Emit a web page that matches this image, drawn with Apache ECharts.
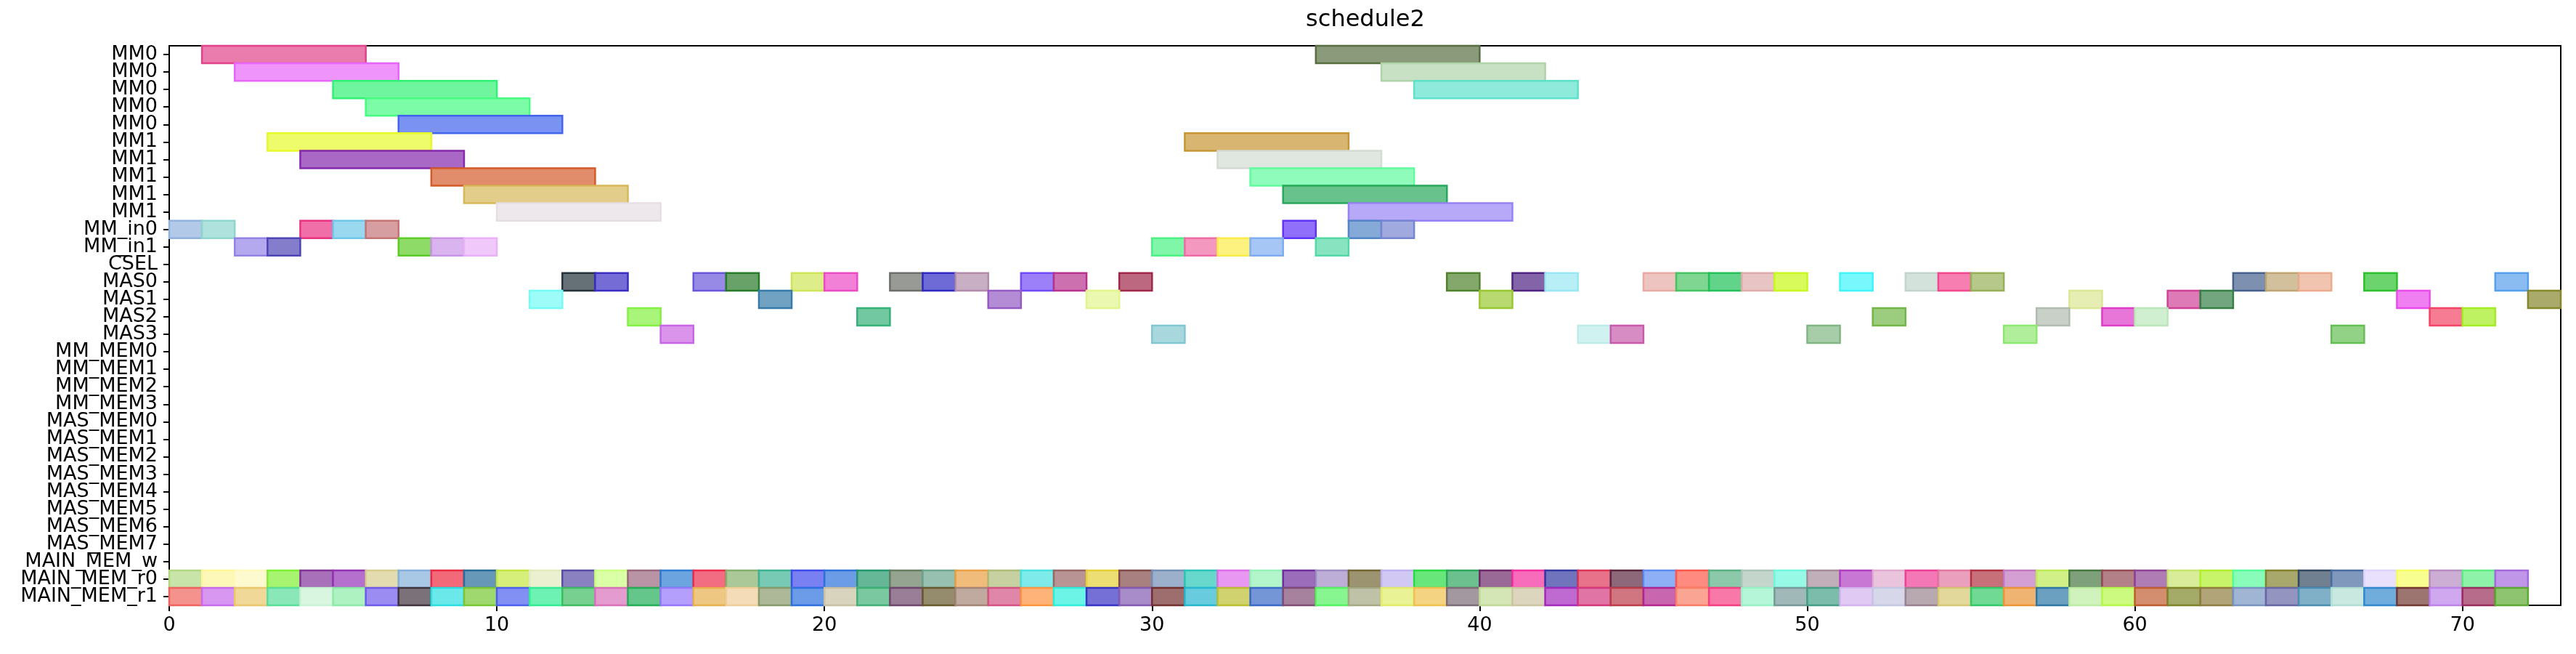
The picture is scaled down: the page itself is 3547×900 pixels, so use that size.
<!DOCTYPE html>
<html>
<head>
<meta charset="utf-8">
<script src="https://cdn.jsdelivr.net/npm/echarts@6/dist/echarts.min.js"></script>
<style>html,body{margin:0;padding:0;background:#fff}#chart{width:3547px;height:900px}</style>
</head>
<body>
<div id="chart"></div>
<script>
// ---- data ----
const categories = ['MM0','MM0','MM0','MM0','MM0','MM1','MM1','MM1','MM1','MM1','MM_in0','MM_in1','CSEL',
  'MAS0','MAS1','MAS2','MAS3','MM_MEM0','MM_MEM1','MM_MEM2','MM_MEM3',
  'MAS_MEM0','MAS_MEM1','MAS_MEM2','MAS_MEM3','MAS_MEM4','MAS_MEM5','MAS_MEM6','MAS_MEM7',
  'MAIN_MEM_w','MAIN_MEM_r0','MAIN_MEM_r1'];
const xTicks = [0, 10, 20, 30, 40, 50, 60, 70];

// long (5-unit) MM tasks
const mmRows   = [0, 0, 1, 1, 2, 2, 3, 4, 5, 5, 6, 6, 7, 7, 8, 8, 9, 9];
const mmStarts = [1, 35, 2, 37, 5, 38, 6, 7, 3, 31, 4, 32, 8, 33, 9, 34, 10, 36];
const mmEnds   = [6, 40, 7, 42, 10, 43, 11, 12, 8, 36, 9, 37, 13, 38, 14, 39, 15, 41];

// 1-unit tasks, per row (start times)
const mmIn0Starts = [0, 1, 4, 5, 6, 34, 36, 37];
const mmIn1Starts = [2, 3, 7, 8, 9, 30, 31, 32, 33, 35];
const mas0Starts = [12, 13, 16, 17, 19, 20, 22, 23, 24, 26, 27, 29, 39, 41, 42, 45, 46, 47, 48, 49, 51, 53, 54, 55, 63, 64, 65, 67, 71];
const mas1Starts = [11, 18, 25, 28, 40, 58, 61, 62, 68, 72];
const mas2Starts = [14, 21, 52, 57, 59, 60, 69, 70];
const mas3Starts = [15, 30, 43, 44, 50, 56, 66];
const mainR0Starts = [0,1,2,3,4,5,6,7,8,9,10,11,12,13,14,15,16,17,18,19,20,21,22,23,24,25,26,27,28,29,30,31,32,33,34,35,
  36,37,38,39,40,41,42,43,44,45,46,47,48,49,50,51,52,53,54,55,56,57,58,59,60,61,62,63,64,65,66,67,68,69,70,71];
const mainR1Starts = [0,1,2,3,4,5,6,7,8,9,10,11,12,13,14,15,16,17,18,19,20,21,22,23,24,25,26,27,28,29,30,31,32,33,34,35,
  36,37,38,39,40,41,42,43,44,45,46,47,48,49,50,51,52,53,54,55,56,57,58,59,60,61,62,63,64,65,66,67,68,69,70,71];
const unitDuration = 1;

// ---- styles (colours as seen on the picture) ----
const mmColors = ['#ea7bad','#8a9a7a','#ee94fb','#c8e0c4','#6ef59e','#8eeada','#7dfca8','#7a93f2','#eefb6a','#d8b672',
  '#aa68c6','#e0e6e0','#e18c6a','#90fcbc','#e3cd8a','#68c28c','#eee8ed','#b8a8f8'];
const mmIn0Colors = ['#b2c9e8','#b0e2dd','#f06fa8','#9ad8f0','#d69ea0','#9070fa','#86aad8','#a0aade'];
const mmIn1Colors = ['#b4a8ee','#837dcc','#8edb68','#dab4ee','#f0c8fa','#80f6a8','#f498c0','#fdf280','#a6c6f6','#88e4c0'];
const mas0Colors = ['#667077','#766cd6','#968ae6','#68a268','#dced8a','#f280d6','#989a96','#6e6ad6','#c9afc4','#9c80fa',
  '#cc70b0','#bc6880','#84a86c','#8464a8','#b8eef6','#eec4c0','#7ed690','#62d48a','#e8c4c4','#d8fa5a','#78f8fc','#d4e2dc',
  '#f67eb0','#b6c88a','#7e90b0','#d2c09c','#f0c4ae','#6cd46c','#8abcf2'];
const mas1Colors = ['#9efcf8','#72a2c2','#b48cd6','#eaf8b0','#b8d870','#e6eeb4','#de7ab6','#72a67e','#f080f2','#aaaa6a'];
const mas2Colors = ['#a8f57a','#72c8a0','#9ccc7e','#c8d0c8','#e876d8','#d0eed0','#f67c94','#bef262'];
const mas3Colors = ['#da94ec','#a8d8de','#d0f2f0','#d88cc4','#a6cca8','#b0ee9c','#92d286'];
const mainR0Colors = ['#c8e4a8','#fef8b8','#fefad0','#a6f470','#a870b8','#b470cc','#e2dcb0','#a8c8e6','#f26a7a','#6898b8',
  '#d6ee7a','#eaf0d0','#8a82c0','#daffa6','#b894a4','#6ca4e0','#f26c82','#aac898','#78cab4','#7880f2',
  '#6c9ce6','#66b698','#94a490','#98c0b0','#f0bc7c','#c6d0a0','#7eeaea','#b89494','#ecde72','#a88080',
  '#9cb0cc','#68d8cc','#e898f0','#b4f6cc','#9a6cba','#bcaed6','#9c9470','#d2c8f4','#68e67a','#6cc08e',
  '#9a6a96','#f86cbc','#7074bc','#e8728a','#8c6878','#8eaef6','#fe8a80','#8cc8aa','#c4d6cc','#98fae6',
  '#c0aeb8','#c878d4','#eac4dc','#f478b6','#eaa0bc','#c8707a','#d4a0d4','#d2f088','#7ea07a','#b48088',
  '#b07cb4','#d8ec9a','#c8f46a','#88fcb8','#a8a86c','#708090','#8098bc','#e8e0fc','#f8fe90','#ccaed4',
  '#8ef2a8','#c096e8'];
const mainR1Colors = ['#f4928e','#d898f2','#f0d898','#8ae8b8','#d8f6e0','#aef2c2','#9a8cf0','#7a7278','#6ae8ea','#a0d870',
  '#8290f4','#6ef2b4','#78d090','#e49cce','#64c68a','#b4a0fc','#eec882','#f4dcb8','#acb898','#6c9ce8',
  '#d8d4be','#7ac8a0','#9a7e98','#948c6c','#c0aaa0','#e086a8','#feb478','#6cf4e6','#7470d6','#a88cca',
  '#9e6e6e','#68ccde','#cfd26e','#7496d6','#a6829e','#88f690','#c0c2a8','#eaf296','#f4d482','#a498a0',
  '#d4e6b6','#dcd6be','#be6ad0','#e074a4','#d07680','#c866b0','#faa494','#f878a8','#b6f6d8','#a0b8b8',
  '#7cbcaa','#e0caf4','#d6d8ea','#b8a8b0','#e2d89c','#70da94','#f0b472','#6ca0c0','#d0f2bc','#ccfa80',
  '#d28e6e','#a4aa68','#b0a478','#a0b4d4','#9494c0','#80b0c8','#c8e8e0','#70acdc','#9c7470','#d0a8f0',
  '#b86c8c','#8ec470'];

// ---- build items ----
function edgeOf(hex) {
  const c = [1,3,5].map(i => parseInt(hex.substr(i,2),16));
  const under = c.map(v => Math.max(0, Math.min(255, (v - 0.4*255)/0.6)));
  const e = c.map((v,i) => Math.round(v*0.35 + under[i]*0.65));
  return 'rgb(' + e.join(',') + ')';
}
const items = [];
function addItem(row, s, e, color) {
  items.push({ value: [row, s, e], itemStyle: { color: color, borderColor: edgeOf(color) } });
}
mmRows.forEach((r, i) => addItem(r, mmStarts[i], mmEnds[i], mmColors[i]));
function addUnitRow(rowName, starts, colors) {
  const r = categories.indexOf(rowName);
  starts.forEach((s, i) => addItem(r, s, s + unitDuration, colors[i]));
}
addUnitRow('MM_in0', mmIn0Starts, mmIn0Colors);
addUnitRow('MM_in1', mmIn1Starts, mmIn1Colors);
addUnitRow('MAS0', mas0Starts, mas0Colors);
addUnitRow('MAS1', mas1Starts, mas1Colors);
addUnitRow('MAS2', mas2Starts, mas2Colors);
addUnitRow('MAS3', mas3Starts, mas3Colors);
addUnitRow('MAIN_MEM_r0', mainR0Starts, mainR0Colors);
addUnitRow('MAIN_MEM_r1', mainR1Starts, mainR1Colors);

const FONT = 'DejaVu Sans';
const chart = echarts.init(document.getElementById('chart'), null, { renderer: 'canvas' });
chart.setOption({
  animation: false,
  backgroundColor: '#ffffff',
  title: {
    text: 'schedule2', left: 1880, top: 12, textAlign: 'center', padding: 0,
    textStyle: { fontFamily: FONT, fontSize: 32, fontWeight: 'normal', color: '#000' }
  },
  grid: { left: 233, right: 21, top: 63, bottom: 67, show: true, borderColor: '#000', borderWidth: 2, backgroundColor: 'transparent' },
  xAxis: {
    type: 'value', min: 0, max: 73, interval: 10,
    splitLine: { show: false },
    axisLine: { show: true, lineStyle: { color: '#000', width: 2 } },
    axisTick: { show: true, length: 8, inside: false, lineStyle: { color: '#000', width: 2 } },
    axisLabel: { fontFamily: FONT, fontSize: 27, color: '#000', margin: 14, showMaxLabel: false,
      formatter: v => (xTicks.indexOf(v) >= 0 ? String(v) : '') }
  },
  yAxis: {
    type: 'category', inverse: true,
    data: categories.map((c, i) => String(i)),
    axisLine: { show: true, lineStyle: { color: '#000', width: 2 } },
    axisTick: { show: true, alignWithLabel: true, length: 8, lineStyle: { color: '#000', width: 2 } },
    axisLabel: { fontFamily: FONT, fontSize: 27, color: '#000', margin: 16, interval: 0,
      formatter: (v, i) => categories[i] },
    splitLine: { show: false }
  },
  series: [{
    type: 'custom',
    encode: { x: [1, 2], y: 0 },
    renderItem: function (params, api) {
      const row = api.value(0);
      const p0 = api.coord([api.value(1), row]);
      const p1 = api.coord([api.value(2), row]);
      const h = api.size([0, 1])[1];
      const st = api.style();
      return {
        type: 'rect',
        shape: { x: p0[0], y: p0[1] - h / 2, width: p1[0] - p0[0], height: h },
        style: { fill: st.fill, stroke: st.stroke, lineWidth: 2.5 }
      };
    },
    data: items
  }]
});
</script>
</body>
</html>
